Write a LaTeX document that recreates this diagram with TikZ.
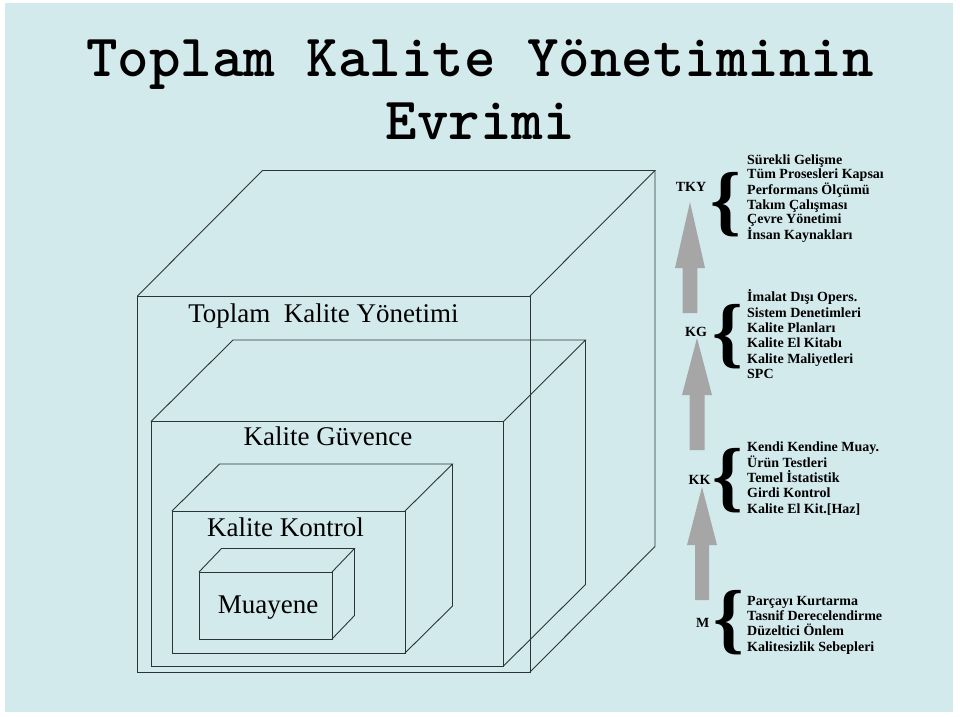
\documentclass[tikz,border=0pt]{standalone}
\usepackage{fontspec}
\setmainfont{Liberation Serif}
\definecolor{bgblue}{HTML}{D3EAED}
\definecolor{arrgray}{HTML}{A6A6A6}
\definecolor{edgecol}{HTML}{2A3636}
\tikzset{
  boxedge/.style={draw=edgecol, line width=0.9pt, line join=miter},
  boxlabel/.style={font=\fontsize{27}{30}\selectfont, inner sep=0pt, anchor=base},
  lvl/.style={font=\bfseries\fontsize{14}{16}\selectfont, inner sep=0pt},
  listtext/.style={font=\bfseries\fontsize{14}{15.3}\selectfont, align=left, anchor=north west, inner sep=0pt},
  bracet/.style={font=\bfseries\fontsize{78}{78}\selectfont, inner sep=0pt, anchor=base west},
  blockarrow/.style={fill=arrgray, draw=none},
  titletext/.style={font=\ttfamily\bfseries\fontsize{60}{66}\selectfont, inner sep=0pt, anchor=base},
}
% left, top, right, bottom, depth x, depth y
\newcommand\wirebox[6]{%
  \draw[boxedge] (#1,#2) rectangle (#3,#4);
  \draw[boxedge] (#1,#2) -- ++(#5,-#6) -- (#3+#5,#2-#6) -- (#3,#2);
  \draw[boxedge] (#3+#5,#2-#6) -- (#3+#5,#4-#6) -- (#3,#4);
}
\begin{document}
\begin{tikzpicture}[x=1pt,y=-1pt]
\useasboundingbox (0,0) rectangle (960,716);
\fill[white] (0,0) rectangle (960,716);
\fill[bgblue] (5,3) rectangle (953,712);

% title
\node[titletext] (title1) at (480,76) {Toplam Kalite Yönetiminin};
\node[titletext] (title2) at (480,139) {Evrimi};

% nested boxes
\wirebox{137.5}{296}{530}{672}{125}{125.5}
\wirebox{151}{421.5}{503.5}{666}{82}{81.5}
\wirebox{172}{511}{405}{653}{47.5}{47}
\wirebox{199}{572}{332}{639}{22.5}{23.5}

\node[boxlabel] (tkylbl) at (323.5,322) {Toplam\ \ Kalite Yönetimi};
\node[boxlabel] (kglbl) at (328,445) {Kalite Güvence};
\node[boxlabel] (kklbl) at (285.5,536) {Kalite Kontrol};
\node[boxlabel] (mlbl) at (268,613) {Muayene};

% level labels
\node[lvl] (tky) at (691,187) {TKY};
\node[lvl] (kg) at (696,331.5) {KG};
\node[lvl] (kk) at (699.5,479.5) {KK};
\node[lvl] (m) at (702.6,622.5) {M};

% block arrows
\fill[blockarrow] (682.7,313) -- (682.7,268) -- (675,268) -- (690,202) -- (705,268) -- (697.3,268) -- (697.3,313) -- cycle;
\fill[blockarrow] (689.5,450) -- (689.5,395) -- (682,395) -- (697,338) -- (712,395) -- (704.5,395) -- (704.5,450) -- cycle;
\fill[blockarrow] (695,600) -- (695,545) -- (687,545) -- (702,487) -- (717,545) -- (709,545) -- (709,600) -- cycle;

% braces
\node[bracet] (brtky) at (710,226) {\{};
\node[bracet] (brkg) at (712,358.5) {\{};
\node[bracet] (brkk) at (712,502.5) {\{};
\node[bracet] (brm) at (713,644) {\{};

% lists
\node[listtext, font=\bfseries\fontsize{14}{14.6}\selectfont] (ltky) at (747,151) {\rule{0pt}{13pt}Sürekli Gelişme\\Tüm Prosesleri Kapsaı\\Performans Ölçümü\\Takım Çalışması\\Çevre Yönetimi\\İnsan Kaynakları};
\node[listtext] (lkg) at (747,288.7) {\rule{0pt}{13pt}İmalat Dışı Opers.\\Sistem Denetimleri\\Kalite Planları\\Kalite El Kitabı\\Kalite Maliyetleri\\SPC};
\node[listtext] (lkk) at (747,438.7) {\rule{0pt}{13pt}Kendi Kendine Muay.\\Ürün Testleri\\Temel İstatistik\\Girdi Kontrol\\Kalite El Kit.[Haz]};
\node[listtext] (lm) at (747,592) {\rule{0pt}{13pt}Parçayı Kurtarma\\Tasnif Derecelendirme\\Düzeltici Önlem\\Kalitesizlik Sebepleri};
\end{tikzpicture}
\end{document}
